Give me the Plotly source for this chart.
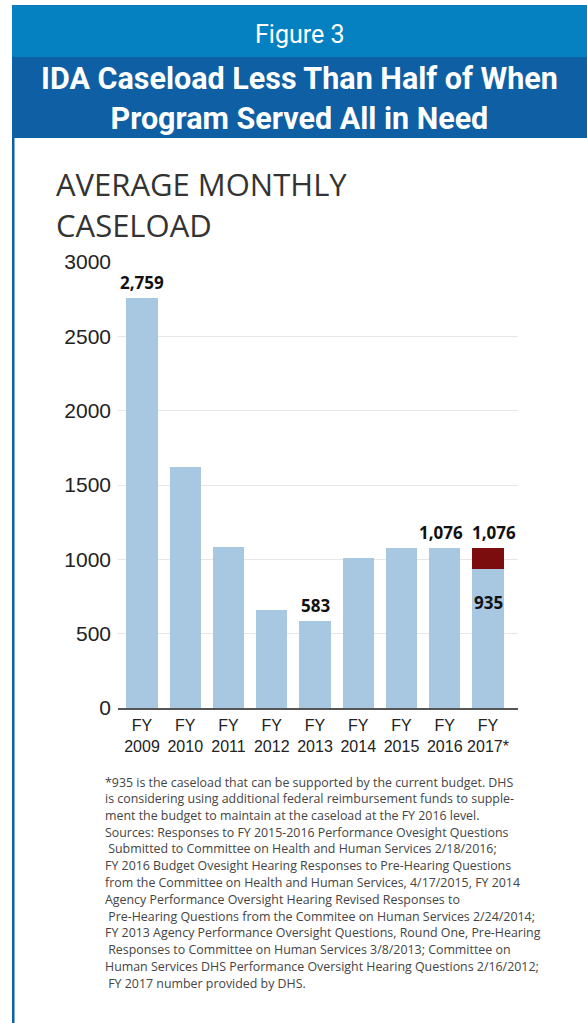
import plotly.graph_objects as go

W, H = 587, 1023

# ---- data ----
years = ["FY<br>2009", "FY<br>2010", "FY<br>2011", "FY<br>2012", "FY<br>2013",
         "FY<br>2014", "FY<br>2015", "FY<br>2016", "FY<br>2017*"]
caseload = [2759, 1620, 1085, 660, 583, 1010, 1076, 1076, 935]
additional = [0, 0, 0, 0, 0, 0, 0, 0, 141]
top_labels = ["2,759", "", "", "", "583", "", "", "1,076", "1,076"]
inner_labels = ["", "", "", "", "", "", "", "", "935"]
y_ticks = [0, 500, 1000, 1500, 2000, 2500, 3000]

title_lines = ["AVERAGE MONTHLY", "CASELOAD"]
foot1_lines = [
    "*935 is the caseload that can be supported by the current budget. DHS",
    "is considering using additional federal reimbursement funds to supple-",
    "ment the budget to maintain at the caseload at the FY 2016 level.",
]
foot2_lines = [
    "Sources: Responses to FY 2015-2016 Performance Ovesight Questions",
    " Submitted to Committee on Health and Human Services 2/18/2016;",
    "FY 2016 Budget Ovesight Hearing Responses to Pre-Hearing Questions",
    "from the Committee on Health and Human Services, 4/17/2015, FY 2014",
    "Agency Performance Oversight Hearing Revised Responses to",
    " Pre-Hearing Questions from the Commitee on Human Services 2/24/2014;",
    "FY 2013 Agency Performance Oversight Questions, Round One, Pre-Hearing",
    " Responses to Committee on Human Services 3/8/2013; Committee on",
    "Human Services DHS Performance Oversight Hearing Questions 2/16/2012;",
    " FY 2017 number provided by DHS.",
]

LIGHT = "#0581c1"
DARK = "#0e5fa4"
BAR = "#a8c8e1"
RED = "#7b0d0f"
TICKF = "Liberation Sans, Arial, sans-serif"
BODY = "Open Sans, Noto Sans, sans-serif"


def px(x):
    return x / W


def py(y):
    return 1 - y / H


fig = go.Figure()
fig.add_trace(go.Bar(x=years, y=caseload, marker=dict(color=BAR, line=dict(width=0)),
                     width=0.72, hoverinfo="skip"))
fig.add_trace(go.Bar(x=years, y=additional, marker=dict(color=RED, line=dict(width=0)),
                     width=0.72, hoverinfo="skip"))

annotations = []
n = len(years)
for i, (cat, c, a, t, inner) in enumerate(zip(years, caseload, additional, top_labels, inner_labels)):
    if t:
        shift = 0
        if i == n - 2:
            shift = -4
        elif i == n - 1:
            shift = 6
        annotations.append(dict(x=cat, y=c + a, xref="x", yref="y", text="<b>" + t + "</b>",
                                showarrow=False, yanchor="bottom", yshift=2, xshift=shift,
                                font=dict(family=BODY, size=17, color="#111")))
    if inner:
        annotations.append(dict(x=cat, y=c, xref="x", yref="y", text="<b>" + inner + "</b>",
                                showarrow=False, yanchor="top", yshift=-20,
                                font=dict(family=BODY, size=17, color="#111")))

annotations.append(dict(x=px(299), y=py(35), xref="paper", yref="paper", text="Figure 3",
                        showarrow=False, xanchor="center", yanchor="middle",
                        font=dict(family="Roboto, sans-serif", size=25, color="white")))
annotations.append(dict(x=px(299), y=py(98), xref="paper", yref="paper",
                        text="<b>IDA Caseload Less Than Half of When<br>Program Served All in Need</b>",
                        showarrow=False, xanchor="center", yanchor="middle",
                        font=dict(family="Roboto, sans-serif", size=30.5, color="white")))
for k, line in enumerate(title_lines):
    annotations.append(dict(x=px(54), y=py(184 + 41 * k), xref="paper", yref="paper",
                            text=line, showarrow=False, xanchor="left", yanchor="middle",
                            font=dict(family=BODY, size=31, color="#333")))
for k, line in enumerate(foot1_lines):
    annotations.append(dict(x=px(103), y=py(782 + 16.8 * k), xref="paper", yref="paper",
                            text=line, showarrow=False, xanchor="left", yanchor="middle",
                            font=dict(family=BODY, size=12.4, color="#444")))
for k, line in enumerate(foot2_lines):
    annotations.append(dict(x=px(103), y=py(832 + 16.8 * k), xref="paper", yref="paper",
                            text=line, showarrow=False, xanchor="left", yanchor="middle",
                            font=dict(family=BODY, size=12.4, color="#444")))

shapes = [
    dict(type="rect", xref="paper", yref="paper", x0=px(12), x1=px(587), y0=py(57), y1=py(5),
         fillcolor=LIGHT, line=dict(width=0), layer="below"),
    dict(type="rect", xref="paper", yref="paper", x0=px(12), x1=px(587), y0=py(138), y1=py(57),
         fillcolor=DARK, line=dict(width=0), layer="below"),
    dict(type="rect", xref="paper", yref="paper", x0=px(12), x1=px(14.5), y0=py(1023), y1=py(138),
         fillcolor=DARK, line=dict(width=0), layer="below"),
]

fig.update_layout(
    width=W, height=H, barmode="stack", showlegend=False,
    margin=dict(l=0, r=0, t=0, b=0, autoexpand=False),
    paper_bgcolor="white", plot_bgcolor="white",
    annotations=annotations, shapes=shapes,
    xaxis=dict(domain=[px(118), px(518)], showgrid=False, showline=True, automargin=False,
               linecolor="#555", linewidth=1.5, ticks="", fixedrange=True,
               tickangle=0, ticklabelstandoff=2,
               tickfont=dict(family=TICKF, size=16, color="#222")),
    yaxis=dict(domain=[py(708), py(262)], range=[0, 3000], tickvals=y_ticks, automargin=False,
               showgrid=True, gridcolor="#e6e6e6", gridwidth=1, zeroline=False,
               showline=False, ticks="", ticklabelstandoff=6,
               tickfont=dict(family=TICKF, size=21, color="#222")),
)

post = "document.body.style.margin='0';"
fig.write_html("out.html", config={"displayModeBar": False}, post_script=post)
